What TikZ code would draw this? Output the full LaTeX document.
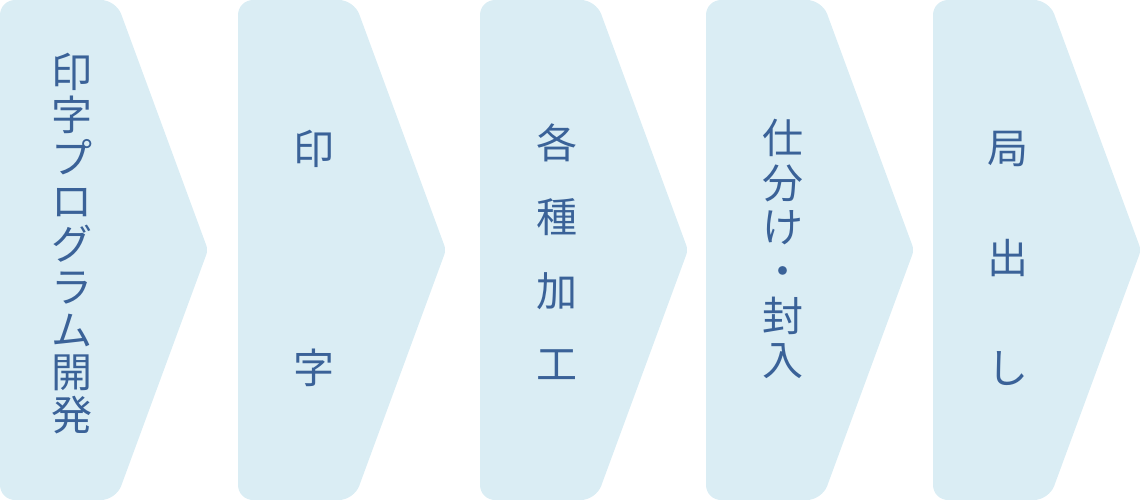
\documentclass[tikz,border=0pt]{standalone}
\usepackage{fontspec}
\usepackage{tikz}
\newfontfamily\jpfont{Noto Sans CJK JP}
\definecolor{boxfill}{HTML}{DAEDF4}
\definecolor{textblue}{HTML}{3A6298}

\begin{document}
\begin{tikzpicture}[x=1pt,y=-1pt,
  stepbox/.style={fill=boxfill,rounded corners=15pt},
  steptext/.style={text=textblue,font=\jpfont\fontsize{41}{41}\selectfont,inner sep=0pt,text height=36.1pt,text depth=4.9pt,anchor=center}]
\useasboundingbox (0,0) rectangle (1143,500);

\foreach \l in {0,238,480,706,933}
  \fill[stepbox] (\l,0) -- (\l+116,0) [rounded corners=5pt] -- (\l+208,250) [rounded corners=15pt] -- (\l+116,500) -- (\l,500) -- cycle;

\foreach \c [count=\i] in {印,字,プ,ロ,グ,ラ,ム,開,発}
  \node[steptext] (dev\i) at (72,{72+42.9*(\i-1)}) {\c};

\node[steptext] (print1) at (314,149) {印};
\node[steptext] (print2) at (314,368) {字};

\foreach \c [count=\i] in {各,種,加,工}
  \node[steptext] (proc\i) at (557,{143+73.7*(\i-1)}) {\c};

\foreach \c [count=\i] in {仕,分,け,・,封,入}
  \node[steptext] (sort\i) at (783,{138+44.4*(\i-1)}) {\c};

\foreach \c [count=\i] in {局,出,し}
  \node[steptext] (ship\i) at (1008,{148+110*(\i-1)}) {\c};

\end{tikzpicture}
\end{document}
